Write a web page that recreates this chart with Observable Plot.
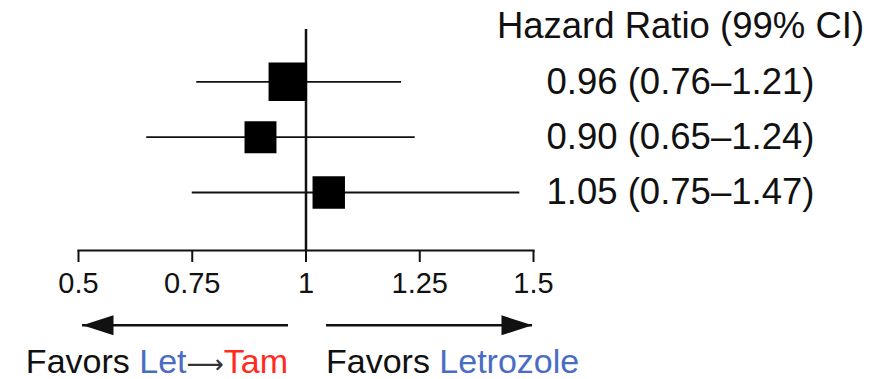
<!DOCTYPE html>
<html><head><meta charset="utf-8">
<script src="https://cdn.jsdelivr.net/npm/d3@7"></script>
<script src="https://cdn.jsdelivr.net/npm/@observablehq/plot@0.6"></script>
<style>
html,body{margin:0;padding:0;background:#fff;}
#chart svg{display:block}
#chart [aria-label="x-axis"] line,
#chart [aria-label="x-axis tick"],
#chart [aria-label="x-axis tick"] path{stroke-width:2px}
#cap{position:relative;width:890px;height:39px;font-family:"Liberation Sans",Arial,sans-serif;font-size:34px;line-height:34px;color:#111}
#cap .l{position:absolute;right:602px;top:4px;white-space:nowrap}
#cap .r{position:absolute;left:326px;top:4px;white-space:nowrap}
#cap .blue{color:#4a6cc4}
#cap .red{color:#ff2b1c}
#cap .arr{color:#333;font-family:"DejaVu Sans",sans-serif;font-size:26px;}
</style></head><body>
<div id="chart"></div>
<div id="cap">
  <span class="l">Favors <span class="blue">Let</span><span class="arr">⟶</span><span class="red">Tam</span></span>
  <span class="r">Favors <span class="blue">Letrozole</span></span>
</div>
<script>
// Data
const rowIndex = [1, 2, 3];
const hazardRatio = [0.96, 0.90, 1.05];
const ciLow = [0.76, 0.65, 0.75];
const ciHigh = [1.21, 1.24, 1.47];
const weight = [1.45, 1.0, 1.03];
const xTicks = [0.5, 0.75, 1, 1.25, 1.5];
const headerText = "Hazard Ratio (99% CI)";
// annotation arrows (data coordinates)
const arrowShaftStart = [0.9615, 1.045];
const arrowTip = [0.5088, 1.4978];
const arrowRow = 5.4;
const labelX = 1.823;

const rows = rowIndex.map((r, i) => ({
  row: r, hr: hazardRatio[i], lo: ciLow[i], hi: ciHigh[i], w: weight[i],
  label: `${hazardRatio[i].toFixed(2)} (${ciLow[i].toFixed(2)}–${ciHigh[i].toFixed(2)})`
}));
const arrows = arrowTip.map((t, i) => ({x1: arrowShaftStart[i], x2: t}));

const leftHead = {draw(ctx, size) { const r = Math.sqrt(size / Math.PI); ctx.moveTo(0, 0); ctx.lineTo(3.1 * r, -r); ctx.lineTo(3.1 * r, r); ctx.closePath(); }};
const rightHead = {draw(ctx, size) { const r = Math.sqrt(size / Math.PI); ctx.moveTo(0, 0); ctx.lineTo(-3.1 * r, -r); ctx.lineTo(-3.1 * r, r); ctx.closePath(); }};

const chart = Plot.plot({
  width: 890,
  height: 340,
  marginLeft: 78,
  marginRight: 357,
  marginTop: 29,
  marginBottom: 90,
  style: {fontFamily: "'Liberation Sans', Arial, sans-serif", fontSize: "29px", color: "#111", background: "#fff", overflow: "visible"},
  x: {domain: [0.5, 1.5], ticks: xTicks, tickFormat: d => String(d), tickSize: 12, tickPadding: 10, label: null},
  y: {domain: [0, 3], range: [26, 192], axis: null},
  r: {type: "sqrt", domain: [0, 1.45], range: [0, 21.7]},
  marks: [
    Plot.frame({anchor: "bottom", strokeWidth: 2, stroke: "#111"}),
    Plot.ruleX([1], {strokeWidth: 2.5, stroke: "#111"}),
    Plot.ruleY(rows, {y: "row", x1: "lo", x2: "hi", stroke: "#111", strokeWidth: 1.8}),
    Plot.dot(rows, {x: "hr", y: "row", r: "w", symbol: "square", fill: "#000", stroke: null}),
    Plot.text(rows, {x: labelX, y: "row", text: "label", fontSize: 36.5, fill: "#111", textAnchor: "middle"}),
    Plot.text([headerText], {x: labelX, y: 0, text: d => d, fontSize: 36.5, fill: "#111", textAnchor: "middle"}),
    Plot.ruleY(arrows, {y: arrowRow, x1: "x1", x2: "x2", stroke: "#111", strokeWidth: 2.5}),
    Plot.dot(arrows.slice(0, 1), {x: "x2", y: arrowRow, r: 10, symbol: leftHead, fill: "#111", stroke: null}),
    Plot.dot(arrows.slice(1), {x: "x2", y: arrowRow, r: 10, symbol: rightHead, fill: "#111", stroke: null})
  ]
});
document.getElementById("chart").appendChild(chart);
</script>
</body></html>
